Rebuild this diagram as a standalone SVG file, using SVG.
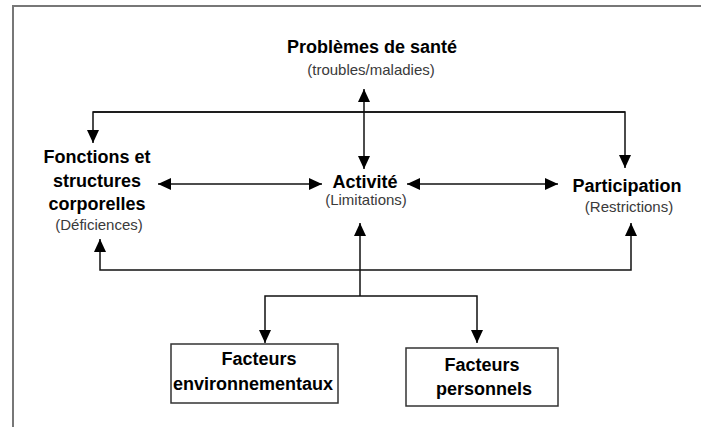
<svg xmlns="http://www.w3.org/2000/svg" width="701" height="430" viewBox="0 0 701 430">
<defs>
<style>
.t{font-family:"Liberation Sans",Arial,sans-serif;font-weight:bold;font-size:18px;fill:#000;text-anchor:middle}
.s{font-family:"Liberation Sans",Arial,sans-serif;font-size:15px;fill:#3a3a3a;text-anchor:middle}
.c{fill:none;stroke:#111;stroke-width:1.5}
.box{fill:#fff;stroke:#333;stroke-width:1.5}
</style>
<marker id="ah" viewBox="0 0 13 12" refX="13" refY="6" markerWidth="13" markerHeight="12" markerUnits="userSpaceOnUse" orient="auto-start-reverse">
<path d="M0,0 L13,6 L0,12 Z" fill="#000"/>
</marker>
</defs>
<rect width="701" height="430" fill="#fff"/>
<path d="M13,427 V6 H701" fill="none" stroke="#777" stroke-width="2"/>
<g id="connectors">
<path class="c" d="M625,112 H93 V143" marker-end="url(#ah)"/>
<path class="c" d="M93,112 H625 V168" marker-end="url(#ah)"/>
<path class="c" d="M364,89 V169" marker-start="url(#ah)" marker-end="url(#ah)"/>
<path class="c" d="M158,184 H322" marker-start="url(#ah)" marker-end="url(#ah)"/>
<path class="c" d="M407,184 H558" marker-start="url(#ah)" marker-end="url(#ah)"/>
<path class="c" d="M631,223 V270 H100 V239" marker-start="url(#ah)" marker-end="url(#ah)"/>
<path class="c" d="M360,296 V223" marker-end="url(#ah)"/>
<path class="c" d="M360,296 H265 V343" marker-end="url(#ah)"/>
<path class="c" d="M360,296 H477 V343" marker-end="url(#ah)"/>
</g>
<g id="sante">
<text class="t" x="372" y="53">Problèmes de santé</text>
<text class="s" x="371" y="75">(troubles/maladies)</text>
</g>
<g id="fonctions">
<text class="t" x="97" y="163">Fonctions et</text>
<text class="t" x="97" y="187">structures</text>
<text class="t" x="97" y="210">corporelles</text>
<text class="s" x="99" y="230">(Déficiences)</text>
</g>
<g id="activite">
<text class="t" x="365" y="188">Activité</text>
<text class="s" x="366" y="205">(Limitations)</text>
</g>
<g id="participation">
<text class="t" x="627" y="192">Participation</text>
<text class="s" x="629" y="212">(Restrictions)</text>
</g>
<g id="env">
<rect class="box" x="171" y="344" width="167" height="59"/>
<text class="t" x="259" y="365">Facteurs</text>
<text class="t" x="253" y="390">environnementaux</text>
</g>
<g id="pers">
<rect class="box" x="406" y="348" width="152" height="58"/>
<text class="t" x="482" y="371">Facteurs</text>
<text class="t" x="484" y="395">personnels</text>
</g>
</svg>
